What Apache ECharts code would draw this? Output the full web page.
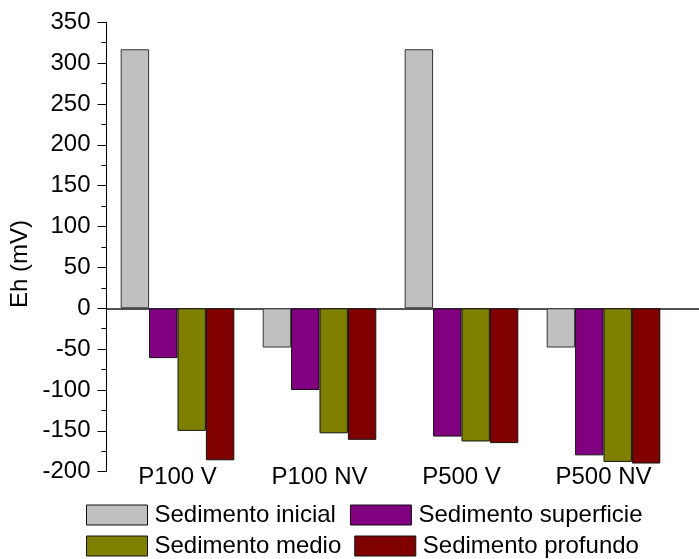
<!DOCTYPE html>
<html>
<head>
<meta charset="utf-8">
<script src="https://cdn.jsdelivr.net/npm/echarts@6/dist/echarts.min.js"></script>
<style>
  html, body { margin: 0; padding: 0; background: #fff; }
  #chart { width: 699px; height: 559px; }
</style>
</head>
<body>
<div id="chart"></div>
<script>
// Redox potential (Eh, mV) per treatment and sediment layer
const categories = ['P100 V', 'P100 NV', 'P500 V', 'P500 NV'];
const sedimentoInicial = [317, -48, 317, -48];
const sedimentoSuperficie = [-61, -100, -157, -180];
const sedimentoMedio = [-150, -153, -163, -188];
const sedimentoProfundo = [-186, -161, -165, -190];

const yTicks = { min: -200, max: 350, step: 50 };

const FONT = 'Liberation Sans, Arial, sans-serif';
const FS = 24;

const chart = echarts.init(document.getElementById('chart'), null, { renderer: 'canvas' });

function barSeries(name, data, color, border) {
  return {
    name: name,
    type: 'bar',
    xAxisIndex: 0,
    yAxisIndex: 0,
    data: data,
    barGap: '0%',
    barCategoryGap: '20%',
    itemStyle: { color: color, borderColor: border, borderWidth: 1 },
    emphasis: { disabled: true }
  };
}

const legendCommon = {
  left: 81,
  orient: 'horizontal',
  icon: 'rect',
  itemWidth: 61,
  itemHeight: 20,
  itemGap: 14,
  textStyle: { fontFamily: FONT, fontSize: FS, color: '#000', padding: [0, 0, 0, 2] },
  itemStyle: { borderColor: '#111', borderWidth: 1 },
  selectedMode: false
};

chart.setOption({
  animation: false,
  backgroundColor: '#fff',
  grid: [
    { left: 106.5, right: 24.5, top: 22.3, bottom: 87.3 },
    // full-width grid used only for the zero baseline
    { left: 106.5, right: 0, top: 22.3, bottom: 87.3 }
  ],
  legend: [
    Object.assign({}, legendCommon, { top: 498, data: ['Sedimento inicial', 'Sedimento superficie'] }),
    Object.assign({}, legendCommon, { top: 529, itemGap: 13, data: ['Sedimento medio', 'Sedimento profundo'] })
  ],
  xAxis: [
    {
      type: 'category',
      gridIndex: 0,
      data: categories,
      position: 'bottom',
      axisLine: { show: false, onZero: false },
      axisTick: { show: false },
      axisLabel: { fontFamily: FONT, fontSize: FS, color: '#000', margin: -6 },
      splitLine: { show: false }
    },
    {
      type: 'value',
      gridIndex: 1,
      min: 0,
      max: 1,
      axisLine: { show: true, onZero: true, lineStyle: { color: '#1a1a1a', width: 1.5 } },
      axisTick: { show: false },
      axisLabel: { show: false },
      splitLine: { show: false }
    }
  ],
  yAxis: [
    {
      type: 'value',
      gridIndex: 0,
      min: yTicks.min,
      max: yTicks.max,
      interval: yTicks.step,
      axisLine: { show: true, lineStyle: { color: '#000', width: 1 } },
      axisTick: { show: true, inside: false, length: 9, lineStyle: { color: '#000', width: 1 } },
      minorTick: { show: true, splitNumber: 2, length: 5, lineStyle: { color: '#000', width: 1 } },
      axisLabel: { fontFamily: FONT, fontSize: FS, color: '#000', margin: 16 },
      splitLine: { show: false }
    },
    {
      type: 'value',
      gridIndex: 1,
      min: yTicks.min,
      max: yTicks.max,
      show: false
    }
  ],
  graphic: [
    {
      type: 'text',
      x: 20,
      y: 264,
      rotation: Math.PI / 2,
      style: {
        text: 'Eh (mV)',
        fontFamily: FONT,
        fontSize: FS,
        fill: '#000',
        textAlign: 'center',
        textVerticalAlign: 'middle'
      }
    }
  ],
  series: [
    barSeries('Sedimento inicial', sedimentoInicial, '#C0C0C0', '#333'),
    barSeries('Sedimento superficie', sedimentoSuperficie, '#800080', '#111'),
    barSeries('Sedimento medio', sedimentoMedio, '#808000', '#111'),
    barSeries('Sedimento profundo', sedimentoProfundo, '#800000', '#111')
  ]
});
</script>
</body>
</html>
